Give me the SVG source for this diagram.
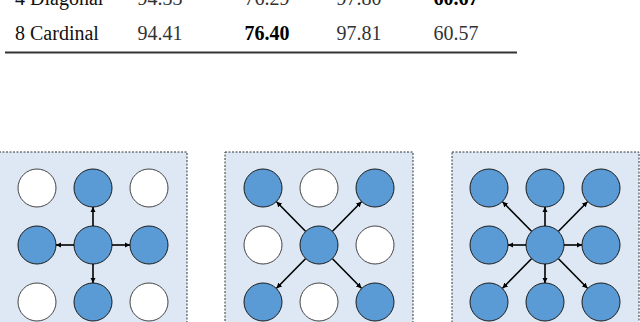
<svg xmlns="http://www.w3.org/2000/svg" width="640" height="322" viewBox="0 0 640 322">
<style>
.t{font-family:"Liberation Serif","Times New Roman",serif;font-size:20px;fill:#111}
.n{font-family:"Liberation Serif","Times New Roman",serif;font-size:20px;fill:#333;text-anchor:middle}
.b{font-weight:bold;fill:#000}
.box{fill:#dee8f4;stroke:#333;stroke-width:1;stroke-dasharray:2,1.5}
.on{fill:#5b9bd5;stroke:#1a1a1a;stroke-width:1}
.off{fill:#fff;stroke:#444;stroke-width:1}
.a{stroke:#000;stroke-width:1.6;fill:none;marker-end:url(#ah)}
</style>
<defs>
<marker id="ah" viewBox="0 0 10 10" refX="10" refY="5" markerWidth="3.4" markerHeight="3.4" orient="auto" markerUnits="strokeWidth">
<path d="M0,0 L10,5 L0,10 z" fill="#000"/>
</marker>
</defs>
<g id="table">
<text class="t" x="15" y="5">4 Diagonal</text>
<text class="n" x="160" y="5">94.33</text>
<text class="n" x="267" y="5">76.29</text>
<text class="n" x="359" y="5">97.80</text>
<text class="n b" x="456" y="5">60.67</text>
<text class="t" x="15" y="40">8 Cardinal</text>
<text class="n" x="160" y="40">94.41</text>
<text class="n b" x="267" y="40">76.40</text>
<text class="n" x="359" y="40">97.81</text>
<text class="n" x="456" y="40">60.57</text>
<line x1="5" y1="52.5" x2="517" y2="52.5" stroke="#333" stroke-width="1.8"/>
</g>
<g id="panel1">
<rect class="box" x="-1" y="152" width="188" height="180"/>
<circle class="off" cx="37" cy="188" r="19"/>
<circle class="on" cx="93" cy="188" r="19"/>
<circle class="off" cx="149" cy="188" r="19"/>
<circle class="on" cx="37" cy="245" r="19"/>
<circle class="on" cx="93" cy="245" r="19"/>
<circle class="on" cx="149" cy="245" r="19"/>
<circle class="off" cx="37" cy="302" r="19"/>
<circle class="on" cx="93" cy="302" r="19"/>
<circle class="off" cx="149" cy="302" r="19"/>
</g>
<g id="panel2">
<rect class="box" x="225" y="152" width="188" height="180"/>
<circle class="on" cx="263" cy="188" r="19"/>
<circle class="off" cx="319" cy="188" r="19"/>
<circle class="on" cx="375" cy="188" r="19"/>
<circle class="off" cx="263" cy="245" r="19"/>
<circle class="on" cx="319" cy="245" r="19"/>
<circle class="off" cx="375" cy="245" r="19"/>
<circle class="on" cx="263" cy="302" r="19"/>
<circle class="off" cx="319" cy="302" r="19"/>
<circle class="on" cx="375" cy="302" r="19"/>
</g>
<g id="panel3">
<rect class="box" x="452" y="152" width="187" height="180"/>
<circle class="on" cx="489" cy="188" r="19"/>
<circle class="on" cx="545" cy="188" r="19"/>
<circle class="on" cx="601" cy="188" r="19"/>
<circle class="on" cx="489" cy="245" r="19"/>
<circle class="on" cx="545" cy="245" r="19"/>
<circle class="on" cx="601" cy="245" r="19"/>
<circle class="on" cx="489" cy="302" r="19"/>
<circle class="on" cx="545" cy="302" r="19"/>
<circle class="on" cx="601" cy="302" r="19"/>
</g>
<g id="connectors">
<line class="a" x1="93" y1="226" x2="93" y2="207"/>
<line class="a" x1="93" y1="264" x2="93" y2="283"/>
<line class="a" x1="74" y1="245" x2="56" y2="245"/>
<line class="a" x1="112" y1="245" x2="130" y2="245"/>
<line class="a" x1="305.5" y1="231.3" x2="276.5" y2="201.7"/>
<line class="a" x1="332.5" y1="231.3" x2="361.5" y2="201.7"/>
<line class="a" x1="305.5" y1="258.7" x2="276.5" y2="288.3"/>
<line class="a" x1="332.5" y1="258.7" x2="361.5" y2="288.3"/>
<line class="a" x1="545" y1="226" x2="545" y2="207"/>
<line class="a" x1="545" y1="264" x2="545" y2="283"/>
<line class="a" x1="526" y1="245" x2="508" y2="245"/>
<line class="a" x1="564" y1="245" x2="582" y2="245"/>
<line class="a" x1="531.5" y1="231.3" x2="502.5" y2="201.7"/>
<line class="a" x1="558.5" y1="231.3" x2="587.5" y2="201.7"/>
<line class="a" x1="531.5" y1="258.7" x2="502.5" y2="288.3"/>
<line class="a" x1="558.5" y1="258.7" x2="587.5" y2="288.3"/>
</g>
</svg>
